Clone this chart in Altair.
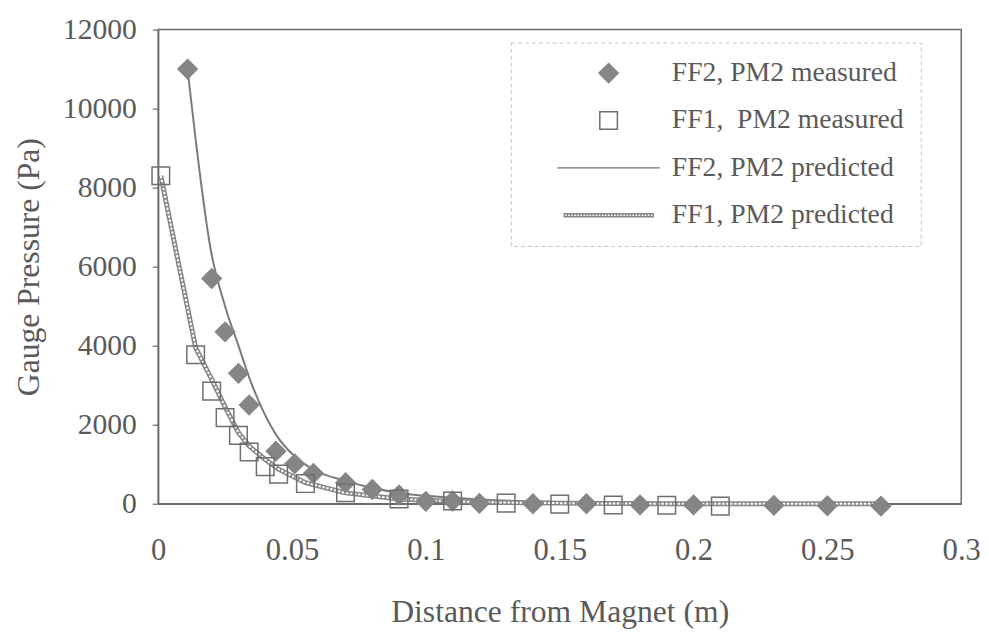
import altair as alt
import pandas as pd

# ---- data: distance (m) and gauge pressure (Pa) ----
ff2_meas_x = [0.011, 0.02, 0.025, 0.03, 0.034, 0.044, 0.051, 0.058, 0.07, 0.08, 0.09,
              0.1, 0.11, 0.12, 0.14, 0.16, 0.18, 0.2, 0.23, 0.25, 0.27]
ff2_meas_p = [11000, 5700, 4350, 3300, 2500, 1330, 1010, 770, 530, 360, 220,
              60, 70, 10, 0, 0, -30, -30, -40, -50, -60]

ff1_meas_x = [0.001, 0.014, 0.02, 0.025, 0.03, 0.034, 0.04, 0.045, 0.055, 0.07, 0.09,
              0.11, 0.13, 0.15, 0.17, 0.19, 0.21]
ff1_meas_p = [8300, 3770, 2850, 2180, 1730, 1310, 940, 750, 510, 280, 120,
              70, 15, -10, -30, -40, -60]

ff2_pred_x = ff2_meas_x
ff2_pred_p = [11000, 6300, 5000, 4000, 3200, 1750, 1200, 860, 580, 400, 280,
              200, 150, 110, 60, 40, 25, 15, 10, 5, 0]

ff1_pred_x = ff1_meas_x + [0.23, 0.25, 0.27]
ff1_pred_p = [8300, 3950, 3150, 2450, 1800, 1460, 1120, 875, 535, 275, 120,
              60, 30, 15, 5, 0, 0, 0, 0, 0]

labels = ["FF2, PM2 measured", "FF1,\u00a0 PM2 measured",
          "FF2, PM2 predicted", "FF1, PM2 predicted"]

x_ticks = [0, 0.05, 0.1, 0.15, 0.2, 0.25, 0.3]
y_ticks = [0, 2000, 4000, 6000, 8000, 10000, 12000]

# ---- tables ----
meas = pd.DataFrame({
    "x": ff2_meas_x + ff1_meas_x,
    "p": ff2_meas_p + ff1_meas_p,
    "series": [labels[0]] * len(ff2_meas_x) + [labels[1]] * len(ff1_meas_x),
})
pred = pd.DataFrame({
    "x": ff2_pred_x + ff1_pred_x,
    "p": ff2_pred_p + ff1_pred_p,
    "series": [labels[2]] * len(ff2_pred_x) + [labels[3]] * len(ff1_pred_x),
})

# ---- style ----
FONT = "Liberation Serif"
TXT = "#5a5a5a"
AX = "#6a6a6a"
MARK = "#858585"

line_sym = "M-6.5,0H6.5"
chain_sym = "".join(f"M{-6.5 + i * 0.45:.2f},-0.22h0.45v0.44h-0.45z" for i in range(29))

leg = alt.Legend(
    title=None, orient="none", legendX=357, legendY=13,
    padding=17, rowPadding=20, symbolOffset=68, labelOffset=50,
    labelFont=FONT, labelFontSize=28, labelColor=TXT, labelLimit=500,
    strokeColor="#c4c4c4", symbolStrokeWidth=1.5,
)

x_enc = alt.X("x:Q", scale=alt.Scale(domain=[0, 0.3], nice=False, zero=False),
              axis=alt.Axis(values=x_ticks, format="~g", ticks=False, tickSize=0,
                            grid=False, domainColor=AX, domainWidth=1.5,
                            labelFont=FONT, labelFontSize=31, labelColor=TXT,
                            labelPadding=32, labelFlush=False, labelOverlap=False,
                            title="Distance from Magnet (m)", titleFont=FONT,
                            titleFontSize=32, titleFontWeight="normal",
                            titleColor=TXT, titlePadding=32))
y_enc = alt.Y("p:Q", scale=alt.Scale(domain=[0, 12000], nice=False),
              axis=alt.Axis(values=y_ticks, format="d", tickSize=6, tickColor=AX,
                            tickWidth=1.2, grid=False, domainColor=AX, domainWidth=1.5,
                            labelFont=FONT, labelFontSize=30, labelColor=TXT,
                            labelPadding=16, labelOverlap=False,
                            title="Gauge Pressure (Pa)", titleFont=FONT,
                            titleFontSize=32, titleFontWeight="normal",
                            titleColor=TXT, titlePadding=17))

ff2_line = alt.Chart(pred).transform_filter(
    alt.FieldEqualPredicate(field="series", equal=labels[2])
).mark_line(color="#7a7a7a", strokeWidth=2, interpolate="monotone").encode(x=x_enc, y=y_enc)

ff1_line_outer = alt.Chart(pred).transform_filter(
    alt.FieldEqualPredicate(field="series", equal=labels[3])
).mark_line(color="#858585", strokeWidth=5).encode(x=x_enc, y=y_enc)

ff1_line_inner = alt.Chart(pred).transform_filter(
    alt.FieldEqualPredicate(field="series", equal=labels[3])
).mark_line(color="white", strokeWidth=2, strokeDash=[2.5, 1.6]).encode(x=x_enc, y=y_enc)

points = alt.Chart(meas).mark_point(filled=True, opacity=1, strokeWidth=1.5).encode(
    x=x_enc,
    y=y_enc,
    shape=alt.Shape("series:N", legend=leg,
                    scale=alt.Scale(domain=labels,
                                    range=["diamond", "square", line_sym, chain_sym])),
    fill=alt.Fill("series:N", legend=leg,
                  scale=alt.Scale(domain=labels,
                                  range=[MARK, "transparent", "transparent", "white"])),
    stroke=alt.Stroke("series:N", legend=leg,
                      scale=alt.Scale(domain=labels,
                                      range=[MARK, "#6e6e6e", "#6e6e6e", "#858585"])),
    size=alt.Size("series:N", legend=leg,
                  scale=alt.Scale(domain=labels, range=[380, 190, 400, 400])),
)

chart = alt.layer(ff2_line, ff1_line_outer, ff1_line_inner, points).properties(
    width=813, height=480,
    padding={"left": 5, "top": 3, "right": 0, "bottom": 2},
    background="white",
).configure_view(stroke=AX, strokeWidth=1.5).configure_legend(strokeDash=[4, 3])

chart.save("out.html", embed_options={"renderer": "svg", "actions": False})
